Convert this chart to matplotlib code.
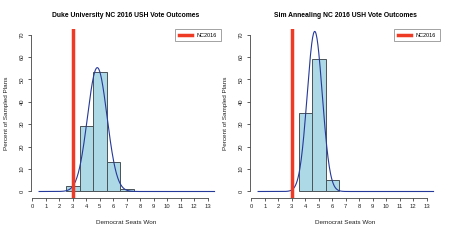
import numpy as np
import matplotlib
matplotlib.use("Agg")
import matplotlib.pyplot as plt

plt.rcParams['font.family'] = ['Liberation Sans', 'DejaVu Sans']

# seats won -> percent of sampled plans
duke_seats = [3, 4, 5, 6, 7]
duke_pct = [2.3, 29.0, 53.3, 13.2, 0.9]
sa_seats = [4, 5, 6]
sa_pct = [35.0, 59.0, 5.0]

titles = ["Duke University NC 2016 USH Vote Outcomes",
          "Sim Annealing NC 2016 USH Vote Outcomes"]
nc2016_seats = 3
x_ticks = list(range(0, 14))
y_ticks = [0, 10, 20, 30, 40, 50, 60, 70]


def normal_fit(seats, pct, xs):
    # normal curve fitted to the histogram (mean/sd of the outcomes)
    w = np.array(pct) / np.sum(pct)
    s = np.array(seats, dtype=float)
    mu = np.sum(w * s)
    sd = np.sqrt(np.sum(w * (s - mu) ** 2))
    return 100 * np.exp(-0.5 * ((xs - mu) / sd) ** 2) / (sd * np.sqrt(2 * np.pi))


W, H = 467, 247
fig = plt.figure(figsize=(W / 100, H / 100), dpi=100)

panels = [(duke_seats, duke_pct, 31), (sa_seats, sa_pct, 250)]
xs = np.linspace(0.5, 13.5, 400)

for (seats, pct, left_px), title in zip(panels, titles):
    ax = fig.add_axes([left_px / W, 49 / H, 190 / W, 169.3 / H])
    ax.bar(seats, pct, width=1.0, color='#add8e6', edgecolor='#4a5358', linewidth=0.7, zorder=2)
    ax.plot(xs, normal_fit(seats, pct, xs), color='#24399a', lw=0.8, zorder=3)
    ax.axvline(nc2016_seats, color='#ee3b26', lw=2.5, zorder=4, label='NC2016')

    ax.set_xlim(-0.1, 13.98)
    ax.set_ylim(-2.9, 72.6)
    for s in ['top', 'right']:
        ax.spines[s].set_visible(False)
    ax.spines['left'].set_bounds(0, 70)
    ax.spines['bottom'].set_bounds(0, 13)
    for s in ['left', 'bottom']:
        ax.spines[s].set_color('#444444')
        ax.spines[s].set_linewidth(0.6)
    ax.set_xticks(x_ticks)
    ax.set_yticks(y_ticks)
    ax.set_yticklabels([str(v) for v in y_ticks], rotation=90, va='center')
    ax.tick_params(length=2.5, width=0.6, color='#444444', labelsize=4.2, pad=2, labelcolor='#222222')

    ax.set_title(title, fontsize=4.9, fontweight='bold', pad=8.5)
    ax.set_xlabel('Democrat Seats Won', fontsize=4.6, labelpad=8, color='#222222')
    ax.set_ylabel('Percent of Sampled Plans', fontsize=4.6, labelpad=8, color='#222222')

    leg = ax.legend(loc='upper right', fontsize=4.0, frameon=True, fancybox=False,
                    borderaxespad=0, handlelength=2.4, borderpad=0.7, handletextpad=0.8)
    leg.get_frame().set_edgecolor('#777777')
    leg.get_frame().set_linewidth(0.6)
    leg.get_lines()[0].set_linewidth(2.5)

fig.savefig('out.png', dpi=100)
